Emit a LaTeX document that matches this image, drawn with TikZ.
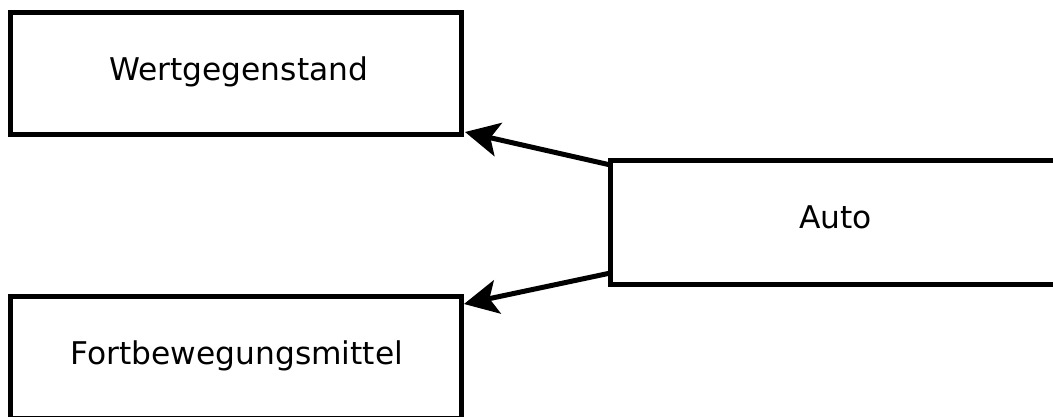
\documentclass[tikz,border=0pt]{standalone}
\usepackage{fontspec}
\setmainfont{DejaVu Sans}
\usetikzlibrary{arrows.meta,calc}
\begin{document}
\begin{tikzpicture}[x=1pt,y=-1pt,
  box/.style={draw=black,line width=5pt,fill=white,rectangle,outer sep=0pt},
  lbl/.style={anchor=base,inner sep=0pt,font=\fontsize{31.3pt}{37pt}\selectfont},
  gen/.style={line width=5pt,-{Stealth[length=34pt,width=34pt,inset=8pt]}}]
\useasboundingbox (0,0) rectangle (1053,417);
\clip (0,0) rectangle (1053,417);
\node[box,minimum width=451.5pt,minimum height=122pt] (wert) at (235.75,74) {};
\node[box,minimum width=451.5pt,minimum height=122pt] (fort) at (235.75,357) {};
\node[box,minimum width=449pt,minimum height=123.5pt] (auto) at (835,222.25) {};
\node[lbl] (wertT) at ($(wert.center)+(3,7)$) {Wertgegenstand};
\node[lbl] (fortT) at ($(fort.center)+(1,7)$) {Fortbewegungsmittel};
\node[lbl] (autoT) at ($(auto.center)+(0.5,6.5)$) {Auto};
\draw[gen] ($(auto.north west)+(0,4.5)$) -- ($(wert.south east)+(3.5,-3)$);
\draw[gen] ($(auto.south west)+(0,-11)$) -- ($(fort.north east)+(2.5,8)$);
\end{tikzpicture}
\end{document}
